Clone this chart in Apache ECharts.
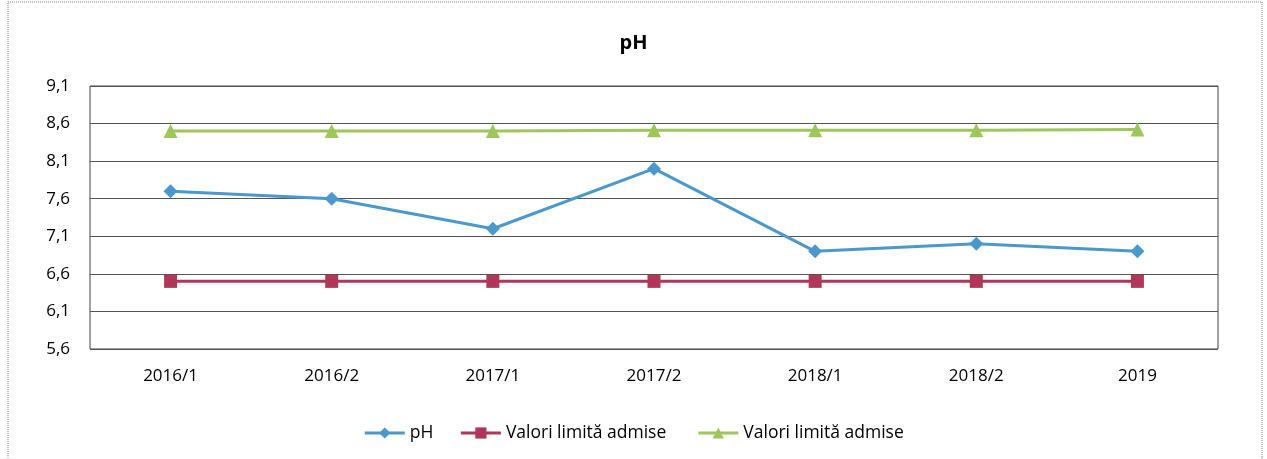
<!DOCTYPE html>
<html><head><meta charset="utf-8">
<script src="https://cdn.jsdelivr.net/npm/echarts@6/dist/echarts.min.js"></script>
<style>html,body{margin:0;padding:0;background:#fff}#c{width:1267px;height:459px}</style>
</head><body><div id="c"></div>
<script>
const categories = ['2016/1','2016/2','2017/1','2017/2','2018/1','2018/2','2019'];
const phValues = [7.7, 7.6, 7.2, 8.0, 6.9, 7.0, 6.9];
const lowerLimit = [6.5, 6.5, 6.5, 6.5, 6.5, 6.5, 6.5];
const upperLimit = [8.5, 8.5, 8.5, 8.51, 8.51, 8.51, 8.52];
const seriesNames = ['pH', 'Valori limită admise', 'Valori limită admise'];
const yMin = 5.6, yMax = 9.1, yStep = 0.5;

const chart = echarts.init(document.getElementById('c'));
const font = 'Open Sans, Noto Sans, sans-serif';
chart.setOption({
  animation: false,
  title: { text: 'pH', left: 'center', top: 28, textStyle: { fontFamily: font, fontWeight: 'bold', fontSize: 20, color: '#000' } },
  graphic: [{ type: 'rect', shape: { x: 8, y: 2, width: 1254, height: 470 }, style: { fill: 'none', stroke: '#888', lineWidth: 1, lineDash: [1, 1] }, silent: true }],
  grid: { left: 90, right: 49, top: 86, bottom: 110, show: true, borderColor: '#444', borderWidth: 1 },
  legend: {
    bottom: 12, left: 'center', itemWidth: 40, itemHeight: 14, itemGap: 26,
    lineStyle: { width: 3 },
    textStyle: { fontFamily: font, fontSize: 17.5, color: '#000' },
    data: [ { name: seriesNames[0] }, { name: seriesNames[1] + ' ' }, { name: seriesNames[2] } ]
  },
  xAxis: {
    type: 'category', data: categories, boundaryGap: true,
    axisLine: { show: false }, axisTick: { show: false },
    axisLabel: { fontFamily: font, fontSize: 17, color: '#000', margin: 19 }
  },
  yAxis: {
    type: 'value', min: yMin, max: yMax, interval: yStep,
    axisLine: { show: false }, axisTick: { show: false },
    splitLine: { lineStyle: { color: '#555', width: 1 } },
    axisLabel: { fontFamily: font, fontSize: 17, color: '#000', margin: 20, formatter: v => v.toFixed(1).replace('.', ',') }
  },
  series: [
    { name: seriesNames[0], type: 'line', data: phValues, symbol: 'diamond', symbolSize: 14,
      lineStyle: { color: '#4A98CC', width: 3 }, itemStyle: { color: '#4A98CC' } },
    { name: seriesNames[1] + ' ', type: 'line', data: lowerLimit, symbol: 'rect', symbolSize: 13,
      lineStyle: { color: '#B0365A', width: 3 }, itemStyle: { color: '#B0365A' } },
    { name: seriesNames[2], type: 'line', data: upperLimit, symbol: 'triangle', symbolSize: 14,
      lineStyle: { color: '#9DC75A', width: 3 }, itemStyle: { color: '#9DC75A' } }
  ]
});
</script></body></html>
